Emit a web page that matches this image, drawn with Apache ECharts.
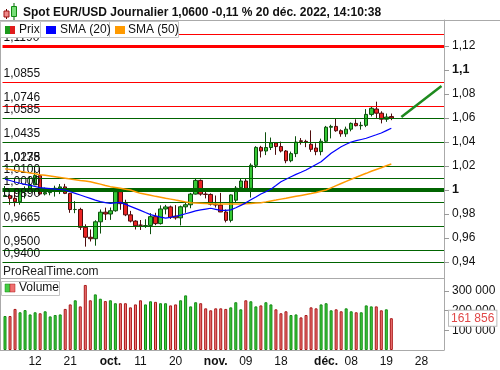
<!DOCTYPE html>
<html><head><meta charset="utf-8">
<script src="https://cdn.jsdelivr.net/npm/echarts@6/dist/echarts.min.js"></script>
<style>html,body{margin:0;padding:0;background:#fff}#c{width:500px;height:370px}</style>
</head><body><div id="c"></div>
<script>
// ---------- DATA ----------
const dates = [
 '2022-09-02','2022-09-05','2022-09-06','2022-09-07','2022-09-08','2022-09-09','2022-09-12','2022-09-13','2022-09-14','2022-09-15','2022-09-16','2022-09-19','2022-09-20','2022-09-21','2022-09-22','2022-09-23','2022-09-26','2022-09-27','2022-09-28','2022-09-29','2022-09-30',
 '2022-10-03','2022-10-04','2022-10-05','2022-10-06','2022-10-07','2022-10-10','2022-10-11','2022-10-12','2022-10-13','2022-10-14','2022-10-17','2022-10-18','2022-10-19','2022-10-20','2022-10-21','2022-10-24','2022-10-25','2022-10-26','2022-10-27','2022-10-28','2022-10-31',
 '2022-11-01','2022-11-02','2022-11-03','2022-11-04','2022-11-07','2022-11-08','2022-11-09','2022-11-10','2022-11-11','2022-11-14','2022-11-15','2022-11-16','2022-11-17','2022-11-18','2022-11-21','2022-11-22','2022-11-23','2022-11-24','2022-11-25','2022-11-28','2022-11-29','2022-11-30',
 '2022-12-01','2022-12-02','2022-12-05','2022-12-06','2022-12-07','2022-12-08','2022-12-09','2022-12-12','2022-12-13','2022-12-14','2022-12-15','2022-12-16','2022-12-19','2022-12-20'
];
const futureDates = ['2022-12-21','2022-12-22','2022-12-23','2022-12-26','2022-12-27','2022-12-28','2022-12-29','2022-12-30','2023-01-02','2023-01-03'];

const opens = [0.9946,0.9953,0.9930,0.9902,0.9996,1.0001,1.0043,1.0120,0.9967,0.9978,0.9999,1.0015,1.0026,0.9972,0.9837,0.9838,0.9689,0.9606,0.9594,0.9735,0.9815,
 0.9800,0.9827,0.9986,0.9886,0.9793,0.9741,0.9707,0.9700,0.9705,0.9778,0.9720,0.9842,0.9859,0.9782,0.9768,0.9860,0.9877,0.9966,1.0080,0.9966,0.9963,
 0.9882,0.9875,0.9817,0.9747,0.9915,1.0019,1.0075,1.0014,1.0206,1.0355,1.0325,1.0354,1.0392,1.0362,1.0325,1.0244,1.0303,1.0410,1.0405,1.0381,1.0350,1.0320,
 1.0406,1.0523,1.0530,1.0494,1.0468,1.0507,1.0555,1.0536,1.0539,1.0630,1.0675,1.0640,1.0590,1.0612];
const highs = [1.0033,0.9966,0.9990,1.0011,1.0030,1.0113,1.0198,1.0187,1.0020,1.0017,1.0036,1.0050,1.0051,0.9976,0.9907,0.9852,0.9714,0.9671,0.9748,0.9838,0.9853,
 0.9854,0.9999,0.9999,0.9919,0.9826,0.9748,0.9750,0.9756,0.9807,0.9810,0.9872,0.9876,0.9870,0.9874,0.9870,0.9898,0.9976,1.0094,1.0088,0.9990,0.9972,
 0.9954,0.9976,0.9838,0.9963,1.0033,1.0096,1.0094,1.0222,1.0365,1.0368,1.0481,1.0437,1.0399,1.0403,1.0333,1.0320,1.0448,1.0433,1.0419,1.0497,1.0390,1.0428,
 1.0534,1.0544,1.0595,1.0505,1.0528,1.0563,1.0589,1.0568,1.0674,1.0693,1.0736,1.0656,1.0637,1.0637];
const lows = [0.9943,0.9877,0.9864,0.9877,0.9930,0.9995,1.0040,0.9955,0.9955,0.9956,0.9945,0.9966,0.9966,0.9810,0.9807,0.9667,0.9528,0.9571,0.9536,0.9637,0.9750,
 0.9751,0.9819,0.9835,0.9782,0.9730,0.9671,0.9667,0.9684,0.9632,0.9707,0.9712,0.9797,0.9759,0.9753,0.9705,0.9810,0.9848,0.9962,0.9953,0.9930,0.9871,
 0.9854,0.9816,0.9730,0.9730,0.9897,0.9985,1.0007,0.9937,1.0183,1.0271,1.0291,1.0333,1.0293,1.0313,1.0223,1.0231,1.0274,1.0378,1.0357,1.0318,1.0290,1.0289,
 1.0391,1.0430,1.0485,1.0444,1.0443,1.0489,1.0530,1.0503,1.0524,1.0613,1.0593,1.0555,1.0568,1.0582];
const closes = [0.9953,0.9930,0.9902,1.0010,1.0001,1.0043,1.0120,0.9967,0.9978,0.9999,1.0015,1.0026,0.9972,0.9837,0.9838,0.9689,0.9606,0.9594,0.9735,0.9815,0.9800,
 0.9827,0.9986,0.9886,0.9793,0.9741,0.9702,0.9706,0.9703,0.9778,0.9720,0.9842,0.9859,0.9773,0.9768,0.9860,0.9877,0.9966,1.0080,0.9966,0.9963,0.9882,
 0.9875,0.9817,0.9747,0.9959,1.0016,1.0075,1.0014,1.0206,1.0355,1.0325,1.0354,1.0392,1.0362,1.0325,1.0244,1.0303,1.0399,1.0405,1.0400,1.0339,1.0320,1.0406,
 1.0523,1.0530,1.0494,1.0468,1.0507,1.0555,1.0536,1.0539,1.0630,1.0681,1.0640,1.0590,1.0608,1.0600];

const sma20 = [1.0090,1.0079,1.0067,1.0056,1.0047,1.0038,1.0029,1.0020,1.0016,1.0012,1.0008,1.0004,1.0000,0.9985,0.9972,0.9958,0.9944,0.9930,0.9916,0.9903,0.9895,
 0.9889,0.9893,0.9897,0.9880,0.9864,0.9847,0.9830,0.9812,0.9795,0.9785,0.9774,0.9765,0.9772,0.9781,0.9790,0.9802,0.9814,0.9826,0.9834,0.9841,0.9848,
 0.9839,0.9830,0.9831,0.9834,0.9852,0.9872,0.9893,0.9918,0.9942,0.9967,0.9986,1.0006,1.0037,1.0069,1.0090,1.0111,1.0130,1.0148,1.0167,1.0190,1.0213,1.0236,
 1.0271,1.0306,1.0334,1.0361,1.0381,1.0400,1.0411,1.0421,1.0431,1.0446,1.0460,1.0475,1.0495,1.0514];
const sma50 = [1.0176,1.0170,1.0163,1.0156,1.0149,1.0142,1.0135,1.0128,1.0122,1.0116,1.0110,1.0104,1.0098,1.0092,1.0086,1.0080,1.0075,1.0069,1.0059,1.0049,1.0038,
 1.0028,1.0021,1.0014,1.0007,1.0000,0.9986,0.9972,0.9964,0.9956,0.9947,0.9939,0.9931,0.9924,0.9916,0.9909,0.9901,0.9894,0.9892,0.9890,0.9888,0.9886,
 0.9884,0.9883,0.9883,0.9883,0.9883,0.9883,0.9886,0.9888,0.9891,0.9894,0.9901,0.9909,0.9916,0.9924,0.9931,0.9939,0.9947,0.9955,0.9963,0.9971,0.9980,0.9990,
 1.0000,1.0018,1.0036,1.0054,1.0072,1.0090,1.0106,1.0123,1.0139,1.0156,1.0171,1.0186,1.0202,1.0217];

const volumes = [173000,173000,209000,192000,203000,181000,192000,187000,197000,171000,178000,181000,209000,232000,253000,222000,331000,253000,283000,261000,249000,
 253000,238000,238000,238000,217000,232000,253000,232000,248000,245000,238000,238000,227000,232000,253000,278000,222000,243000,238000,212000,202000,
 212000,212000,209000,217000,243000,207000,253000,248000,222000,227000,243000,232000,207000,187000,197000,178000,181000,166000,178000,217000,212000,232000,
 238000,202000,207000,197000,212000,197000,192000,192000,227000,222000,222000,202000,207000,161856];

const resistLevels = [1.1264, 1.1190, 1.0855, 1.0746];
const resistLabels = ['', '1,1190', '1,0855', '1,0746'];
const supportLevels = [1.0585, 1.0435, 1.0238, 1.0175, 1.0100, 1.0000, 0.9890, 0.9665, 0.9500, 0.9400];
const supportLabels = ['1,0585','1,0435','1,0238','1,0175','1,0100','1,0000','0,9890','0,9665','0,9500','0,9400'];

const priceTicks = [0.94,0.96,0.98,1,1.02,1.04,1.06,1.08,1.1,1.12];
const boldPriceTicks = [1, 1.1];
const volumeTicks = [100000,200000,300000];

const tickDates = ['2022-09-12','2022-09-21','2022-10-03','2022-10-11','2022-10-20','2022-11-01','2022-11-09','2022-11-18','2022-12-01','2022-12-08','2022-12-19','2022-12-28'];
const tickTexts = ['12','21','oct.','11','20','nov.','09','18','déc.','08','19','28'];

const arrowFrom = ['2022-12-22', 1.0608];
const arrowTo = ['2023-01-03', 1.0867];

const titleText = 'Spot EUR/USD Journalier 1,0600 -0,11 % 20 déc. 2022, 14:10:38';

// ---------- CHART ----------
const FONT = '"Liberation Sans", Arial, sans-serif';
const allDates = dates.concat(futureDates);
const Y_MIN = 1 - 88/1200, Y_MAX = 1 + 170/1200;
const V_MAX = 366400;

const candleData = opens.map((o,i)=>[o, closes[i], lows[i], highs[i]]);
const upVol = {color:'#3fcf3f', borderColor:'#128a12', borderWidth:1};
const dnVol = {color:'#f27a7a', borderColor:'#a81818', borderWidth:1};
const volData = volumes.map((v,i)=>({value:v, itemStyle: closes[i]>=opens[i]?upVol:dnVol}));

const fmtNum = v => String(v).replace(/\B(?=(\d{3})+(?!\d))/g,' ');
const srLine = (lvl, lab, color) => ({
  yAxis: lvl,
  lineStyle: {color: color, type:'solid', width: lvl===1.0000 ? 4 : (lvl===1.1190 ? 3 : 1)},
  label: {show: lab!=='', formatter: lab}
});
const srData = resistLevels.map((l,i)=>srLine(l,resistLabels[i],'#ff0000'))
  .concat(supportLevels.map((l,i)=>srLine(l,supportLabels[i],'#006400')));

const chart = echarts.init(document.getElementById('c'), null, {renderer:'canvas', width:500, height:370});
const txt = {fontFamily: FONT, fontSize: 12, color: '#111'};

chart.setOption({
  animation: false,
  backgroundColor: '#fff',
  grid: [
    {left: 2.5, top: 20, width: 441.5, height: 258},
    {left: 2.5, top: 278, width: 441.5, height: 72}
  ],
  xAxis: [
    {type:'category', gridIndex:0, data: allDates, boundaryGap:true,
     axisLine:{show:false}, axisTick:{show:false}, axisLabel:{show:false}, splitLine:{show:false}},
    {type:'category', gridIndex:1, data: allDates, boundaryGap:true,
     axisLine:{show:true, lineStyle:{color:'#aaa', width:1}}, axisTick:{show:false}, splitLine:{show:false},
     axisLabel:{show:true, ...txt, margin:6, hideOverlap:false,
       interval:(idx, val)=>tickDates.indexOf(val)>=0,
       formatter:(val)=>{const k=tickDates.indexOf(val); const t=tickTexts[k]; return /[a-zé]/.test(t)?'{b|'+t+'}':t;},
       rich:{b:{fontFamily:FONT, fontSize:12, fontWeight:'bold', color:'#111'}}}}
  ],
  yAxis: [
    {type:'value', gridIndex:0, position:'right', min:Y_MIN, max:Y_MAX, scale:true,
     axisLine:{show:true, lineStyle:{color:'#aaa'}},
     axisTick:{show:true, length:5, customValues: priceTicks, lineStyle:{color:'#999'}},
     splitLine:{show:false},
     axisLabel:{...txt, margin:8, customValues: priceTicks,
       formatter:(v)=>{const r=Math.round(v*100)/100; const s=String(r).replace('.',','); return boldPriceTicks.some(b=>Math.abs(b-r)<1e-9)?'{b|'+s+'}':s;},
       rich:{b:{fontFamily:FONT, fontSize:12.5, fontWeight:'bold', color:'#111'}}}},
    {type:'value', gridIndex:1, position:'right', min:0, max:V_MAX,
     axisLine:{show:true, lineStyle:{color:'#aaa'}},
     axisTick:{show:true, length:5, customValues: volumeTicks, lineStyle:{color:'#999'}},
     splitLine:{show:false},
     axisLabel:{...txt, margin:8, customValues: volumeTicks, formatter:(v)=>fmtNum(v)}}
  ],
  series: [
    {type:'candlestick', xAxisIndex:0, yAxisIndex:0, data: candleData, barWidth:4, z:2, silent:true,
     itemStyle:{color:'#35c935', color0:'#ec2424', borderColor:'#0c4f0c', borderColor0:'#4f0c0c', borderWidth:1,
                borderColorDoji:'#111'}},
    {type:'line', name:'SR', xAxisIndex:0, yAxisIndex:0, data:[], z:3, silent:true,
     markLine:{silent:true, symbol:['none','none'], animation:false, z:3,
       label:{position:'insideStartTop', distance:[1,2], ...txt},
       data: srData}},
    {type:'line', name:'SMA (50)', xAxisIndex:0, yAxisIndex:0, data: sma50, showSymbol:false, symbol:'none', z:4,
     lineStyle:{color:'#ff9a00', width:1.5}, silent:true},
    {type:'line', name:'SMA (20)', xAxisIndex:0, yAxisIndex:0, data: sma20, showSymbol:false, symbol:'none', z:4,
     lineStyle:{color:'#0000ff', width:1.2}, silent:true,
     markLine:{silent:true, symbol:['none','arrow'], symbolSize:[0,11], animation:false,
       lineStyle:{color:'#1e8a1e', width:2.5, type:'solid'}, label:{show:false},
       data:[[{coord: arrowFrom}, {coord: arrowTo}]]}},
    {type:'bar', xAxisIndex:1, yAxisIndex:1, data: volData, barWidth:3, silent:true, z:2,
     markLine:{silent:true, symbol:['none','none'], animation:false,
       lineStyle:{color:'rgba(0,0,0,0)', width:0},
       label:{show:true, position:'end', distance:5, formatter: fmtNum(volumes[volumes.length-1]),
         fontFamily:FONT, fontSize:12, color:'#e04848', backgroundColor:'#fff', borderColor:'#bbb', borderWidth:1, padding:[2,2,1,2]},
       data:[{yAxis: volumes[volumes.length-1]}]}}
  ],
  graphic: [
    {type:'line', shape:{x1:0,y1:20.5,x2:500,y2:20.5}, style:{stroke:'#aaa', lineWidth:1}, z:100},
    {type:'line', shape:{x1:0,y1:278.5,x2:444,y2:278.5}, style:{stroke:'#aaa', lineWidth:1}, z:100},
    {type:'line', shape:{x1:0.5,y1:20,x2:0.5,y2:350}, style:{stroke:'#aaa', lineWidth:1}, z:100},
    {type:'line', shape:{x1:0,y1:350.5,x2:3,y2:350.5}, style:{stroke:'#aaa', lineWidth:1}, z:100},
    // title icon
    {type:'line', shape:{x1:6.5,y1:9,x2:6.5,y2:19}, style:{stroke:'#600', lineWidth:1}, z:100},
    {type:'rect', shape:{x:4,y:11,width:5,height:6}, style:{fill:'#ee8888', stroke:'#a01010', lineWidth:1}, z:101},
    {type:'line', shape:{x1:14,y1:3,x2:14,y2:20}, style:{stroke:'#060', lineWidth:1}, z:100},
    {type:'rect', shape:{x:11.5,y:6.5,width:5,height:10}, style:{fill:'#77dd77', stroke:'#128a12', lineWidth:1}, z:101},
    {type:'text', x:23, y:13, style:{text:titleText, fontFamily:FONT, fontSize:12, fontWeight:'bold', fill:'#111', verticalAlign:'middle'}, z:100},
    // legend boxes
    {type:'rect', shape:{x:0.5,y:21.5,width:40,height:16}, style:{fill:'#fff', stroke:'#c4c4c4', lineWidth:1}, z:100},
    {type:'rect', shape:{x:40.5,y:21.5,width:69,height:16}, style:{fill:'#fff', stroke:'#c4c4c4', lineWidth:1}, z:100},
    {type:'rect', shape:{x:109.5,y:21.5,width:69,height:16}, style:{fill:'#fff', stroke:'#c4c4c4', lineWidth:1}, z:100},
    {type:'rect', shape:{x:5,y:26,width:5,height:8}, style:{fill:'#1c9a1c'}, z:101},
    {type:'rect', shape:{x:10,y:26,width:5,height:8}, style:{fill:'#e01c1c'}, z:101},
    {type:'text', x:19, y:30, style:{text:'Prix', fontFamily:FONT, fontSize:12, fill:'#111', verticalAlign:'middle'}, z:101},
    {type:'rect', shape:{x:46,y:26,width:10,height:8}, style:{fill:'#0000ff'}, z:101},
    {type:'text', x:60, y:30, style:{text:'SMA (20)', fontFamily:FONT, fontSize:12, fill:'#111', verticalAlign:'middle'}, z:101},
    {type:'rect', shape:{x:115,y:26,width:10,height:8}, style:{fill:'#ff9a00'}, z:101},
    {type:'text', x:128, y:30, style:{text:'SMA (50)', fontFamily:FONT, fontSize:12, fill:'#111', verticalAlign:'middle'}, z:101},
    // watermark text
    {type:'text', x:3, y:271.5, style:{text:'ProRealTime.com', fontFamily:FONT, fontSize:12, fill:'#222', verticalAlign:'middle'}, z:100},
    // volume legend
    {type:'rect', shape:{x:1.5,y:281.5,width:58,height:14}, style:{fill:'#fff', stroke:'#c4c4c4', lineWidth:1}, z:100},
    {type:'rect', shape:{x:5,y:284,width:5,height:8}, style:{fill:'#44cc44', stroke:'#128a12', lineWidth:0.5}, z:101},
    {type:'rect', shape:{x:10,y:284,width:5,height:8}, style:{fill:'#f07070', stroke:'#a81818', lineWidth:0.5}, z:101},
    {type:'text', x:19, y:288, style:{text:'Volume', fontFamily:FONT, fontSize:12, fill:'#111', verticalAlign:'middle'}, z:101}
  ]
});
</script>
</body></html>
